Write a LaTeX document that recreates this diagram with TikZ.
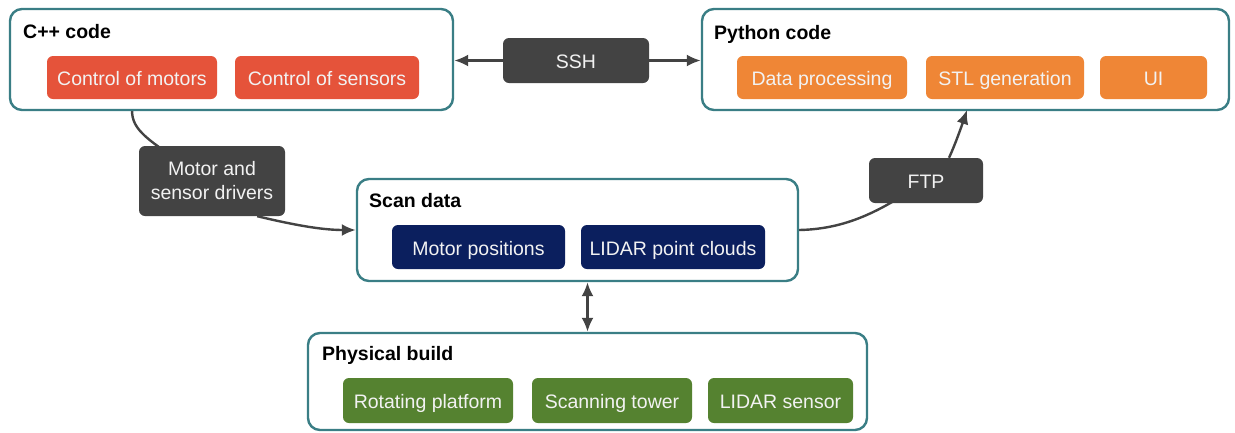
\documentclass[tikz,border=0pt]{standalone}
\usepackage{fontspec}
\setmainfont{Liberation Sans}
\usetikzlibrary{arrows.meta,backgrounds}
\definecolor{teal}{HTML}{3A7E85}
\definecolor{cred}{HTML}{E5533A}
\definecolor{corange}{HTML}{EF8636}
\definecolor{cnavy}{HTML}{0B1F5E}
\definecolor{cgreen}{HTML}{558230}
\definecolor{cdark}{HTML}{434343}
\definecolor{clight}{HTML}{F2F2F2}
\tikzset{
  group/.style={draw=teal, line width=2.4pt, rounded corners=12pt, fill=white, inner sep=0pt},
  item/.style={rounded corners=6pt, text=clight, minimum height=43pt, inner sep=0pt, text height=17pt, text depth=1pt, font=\fontsize{19.5}{23}\selectfont},
  reditem/.style={item, fill=cred},
  orangeitem/.style={item, fill=corange},
  navyitem/.style={item, fill=cnavy, minimum height=44pt},
  greenitem/.style={item, fill=cgreen, minimum height=45pt},
  label/.style={item, fill=cdark},
  label2/.style={rounded corners=6pt, text=clight, fill=cdark, inner sep=0pt, align=center, font=\fontsize{19.5}{24}\selectfont},
  gtitle/.style={anchor=west, inner sep=0pt, text height=14pt, text depth=4pt, font=\bfseries\fontsize{19.5}{23}\selectfont},
  conn/.style={draw=cdark, line width=2.4pt},
  tip/.style={-{Latex[length=14pt,width=12pt]}},
}
\begin{document}
\begin{tikzpicture}[x=1pt,y=-1pt]
\useasboundingbox (0,0) rectangle (1235,432);
% groups
\node[group, minimum width=443pt, minimum height=101pt] (cpp) at (231.5,59.5) {};
\node[group, minimum width=527pt, minimum height=101pt] (py) at (965.5,59.5) {};
\node[group, minimum width=441pt, minimum height=102pt] (scan) at (577.5,230) {};
\node[group, minimum width=559pt, minimum height=97pt] (phys) at (587.5,381.5) {};
% titles
\node[gtitle] (tcpp) at (23,33) {C++ code};
\node[gtitle] (tpy) at (714,34) {Python code};
\node[gtitle] (tscan) at (369,202) {Scan data};
\node[gtitle] (tphys) at (322,355) {Physical build};
% items
\node[reditem, minimum width=170pt] (cm) at (132,77.5) {Control of motors};
\node[reditem, minimum width=184pt] (cs) at (327,77.5) {Control of sensors};
\node[orangeitem, minimum width=170pt] (dp) at (822,77.5) {Data processing};
\node[orangeitem, minimum width=158pt] (stl) at (1005,77.5) {STL generation};
\node[orangeitem, minimum width=107pt] (ui) at (1153.5,77.5) {UI};
\node[navyitem, minimum width=173pt] (mp) at (478.5,247) {Motor positions};
\node[navyitem, minimum width=184pt] (lpc) at (673,247) {LIDAR point clouds};
\node[greenitem, minimum width=170pt] (rp) at (428,400.5) {Rotating platform};
\node[greenitem, minimum width=160pt] (st) at (612,400.5) {Scanning tower};
\node[greenitem, minimum width=145pt] (ls) at (780.5,400.5) {LIDAR sensor};
% connector labels
\node[label, minimum width=146pt, minimum height=45pt] (ssh) at (576,60.5) {SSH};
\node[label2, minimum width=146pt, minimum height=70pt] (drv) at (212,181) {Motor and\\sensor drivers};
\node[label, minimum width=114pt, minimum height=45pt] (ftp) at (926,180.5) {FTP};
\coordinate (cppout) at (132,110);
\coordinate (pyin) at (967,110);
% connectors
\begin{scope}[on background layer]
\draw[conn] (cppout) .. controls (132,130) and (145,140) .. (drv.center);
\draw[conn] (scan.east) .. controls (850,229) and (885,208) .. (ftp.center);
\end{scope}
\draw[conn, tip] (ssh.west) -- (ssh.west -| cpp.east);
\draw[conn, tip] (ssh.east) -- (ssh.east -| py.west);
\draw[conn, tip] (drv.south east) ++(-28pt,0) coordinate (drvout) .. controls (290,224) and (320,230) .. (scan.west);
\draw[conn, tip] (ftp.north) ++(23pt,0) coordinate (ftpout) .. controls (955,145) and (962,125) .. (pyin);
\draw[conn, {Latex[length=14pt,width=12pt]}-{Latex[length=14pt,width=12pt]}] (phys.north |- scan.south) -- (phys.north);
\end{tikzpicture}
\end{document}
